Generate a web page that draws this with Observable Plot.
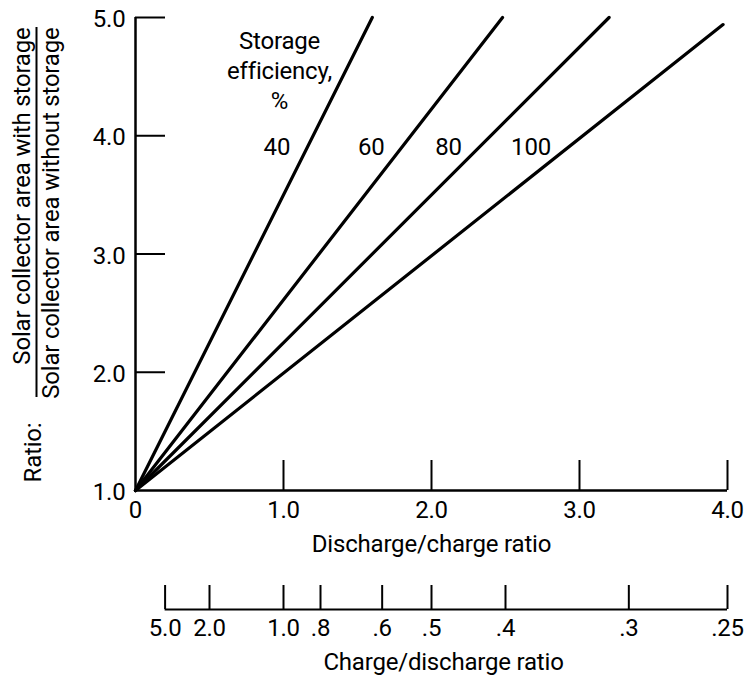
<!DOCTYPE html>
<html>
<head>
<meta charset="utf-8">
<script src="https://cdn.jsdelivr.net/npm/d3@7"></script>
<script src="https://cdn.jsdelivr.net/npm/@observablehq/plot@0.6"></script>
<style>
  html, body { margin: 0; padding: 0; background: #fff; }
</style>
</head>
<body>
<div id="chart"></div>
<script>
// Collector-area ratio versus discharge/charge ratio, one straight line per storage efficiency
const efficiencies = [40, 60, 80, 100];
const startDischarge = [0, 0, 0, 0];
const startRatio = [1.0, 1.0, 1.0, 1.0];
const endDischarge = [1.6, 2.48, 3.2, 3.97];
const endRatio = [5.0, 5.0, 5.0, 4.94];

// Primary axes
const dischargeTicks = [0, 1, 2, 3, 4];
const dischargeTickLabels = ["0", "1.0", "2.0", "3.0", "4.0"];
const ratioTicks = [1, 2, 3, 4, 5];
const ratioTickLabels = ["1.0", "2.0", "3.0", "4.0", "5.0"];

// Secondary (reciprocal) axis: charge/discharge ratio
const chargeTicks = [5.0, 2.0, 1.0, 0.8, 0.6, 0.5, 0.4, 0.3, 0.25];
const chargeTickLabels = ["5.0", "2.0", "1.0", ".8", ".6", ".5", ".4", ".3", ".25"];

// Ratio level at which the efficiency labels sit
const effLabelRatio = 3.9;

const curves = efficiencies.map((e, i) => ({
  eff: e,
  x1: startDischarge[i], y1: startRatio[i],
  x2: endDischarge[i], y2: endRatio[i]
}));

const FONT = 'Roboto, "Liberation Sans", sans-serif';
const secondaryOffset = 119;

const chart = Plot.plot({
  width: 748,
  height: 679,
  marginLeft: 135,
  marginRight: 21,
  marginTop: 17,
  marginBottom: 189,
  x: {domain: [0, 4], axis: null},
  y: {domain: [1, 5], axis: null},
  style: {
    fontFamily: FONT,
    fontSize: "24px",
    letterSpacing: "-0.2px",
    background: "white",
    color: "black",
    overflow: "visible"
  },
  marks: [
    // axis lines
    Plot.ruleX([0], {stroke: "black", strokeWidth: 2.5}),
    Plot.ruleY([1], {stroke: "black", strokeWidth: 2.5}),
    // inward tick marks
    Plot.ruleY(ratioTicks.filter(d => d > 1), {y: d => d, x1: 0, x2: 0, insetRight: -30, stroke: "black", strokeWidth: 2}),
    Plot.ruleX(dischargeTicks.filter(d => d > 0), {x: d => d, y1: 1, y2: 1, insetTop: -30, stroke: "black", strokeWidth: 2}),
    // tick labels
    Plot.text(ratioTicks, {x: 0, y: d => d, text: (d, i) => ratioTickLabels[i], textAnchor: "end", dx: -10, dy: 2, lineAnchor: "middle"}),
    Plot.text(dischargeTicks, {x: d => d, y: 1, text: (d, i) => dischargeTickLabels[i], textAnchor: "middle", dy: 20, lineAnchor: "middle"}),
    Plot.text(["Discharge/charge ratio"], {frameAnchor: "bottom", textAnchor: "middle", dy: 54, lineAnchor: "middle"}),

    // reciprocal axis below
    Plot.ruleY([1], {x1: 1 / d3.max(chargeTicks), x2: 1 / d3.min(chargeTicks), dy: secondaryOffset, stroke: "black", strokeWidth: 2}),
    Plot.ruleX(chargeTicks, {x: c => 1 / c, y1: 1, y2: 1, insetTop: -24, dy: secondaryOffset, stroke: "black", strokeWidth: 2}),
    Plot.text(chargeTicks, {x: c => 1 / c, y: 1, text: (d, i) => chargeTickLabels[i], textAnchor: "middle", dy: secondaryOffset + 19, lineAnchor: "middle"}),
    Plot.text(["Charge/discharge ratio"], {frameAnchor: "bottom", textAnchor: "middle", dx: 12, dy: 172, lineAnchor: "middle"}),

    // y-axis title: "Ratio:" followed by a stacked fraction
    Plot.text(["Ratio:"], {frameAnchor: "bottom-left", rotate: -90, textAnchor: "middle", lineAnchor: "middle", dx: -102, dy: -38}),
    Plot.text(["Solar collector area with storage"], {frameAnchor: "top-left", rotate: -90, textAnchor: "end", lineAnchor: "middle", dx: -113, dy: 10}),
    Plot.ruleX([0], {dx: -99, insetTop: 10, insetBottom: 93, stroke: "black", strokeWidth: 2}),
    Plot.text(["Solar collector area without storage"], {frameAnchor: "top-left", rotate: -90, textAnchor: "end", lineAnchor: "middle", dx: -84, dy: 10}),

    // efficiency lines
    Plot.link(curves, {x1: "x1", y1: "y1", x2: "x2", y2: "y2", stroke: "black", strokeWidth: 3.2, strokeLinecap: "round"}),
    Plot.text(curves, {
      x: d => d.x1 + (d.x2 - d.x1) * (effLabelRatio - d.y1) / (d.y2 - d.y1),
      y: effLabelRatio,
      text: d => String(d.eff),
      textAnchor: "end",
      dx: -17,
      lineAnchor: "middle"
    }),
    Plot.text(["Storage\nefficiency,\n%"], {frameAnchor: "top-left", textAnchor: "middle", dx: 144, dy: 52, lineAnchor: "middle", lineHeight: 1.25})
  ]
});

document.getElementById("chart").appendChild(chart);
</script>
</body>
</html>
